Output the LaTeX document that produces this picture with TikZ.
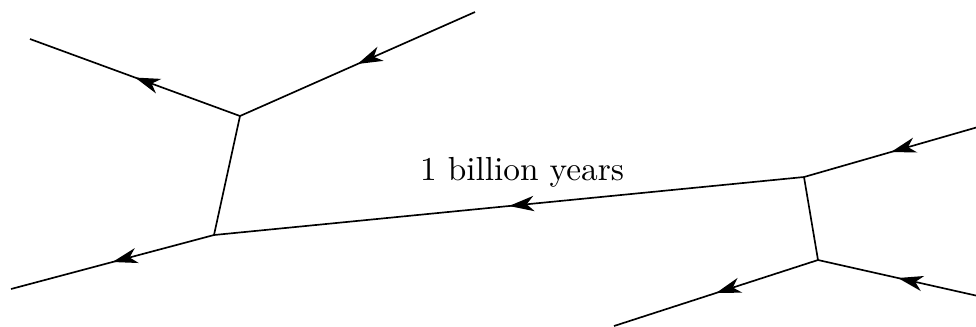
\documentclass[tikz,border=0pt]{standalone}
\usetikzlibrary{arrows.meta,decorations.markings}
\tikzset{
  prop/.style={line width=0.5pt, black, postaction={decorate},
    decoration={markings, mark=at position 0.5 with {\arrow{Stealth[length=7.5pt,width=4.6pt,inset=2.2pt]}}}},
  plain/.style={line width=0.5pt, black}
}
\begin{document}
\begin{tikzpicture}[x=0.3pt,y=-0.3pt]
\useasboundingbox (0,0) rectangle (976,326);
\coordinate (v1) at (240,116);
\coordinate (v2) at (214,235);
\coordinate (v3) at (804,177);
\coordinate (v4) at (818,260);
\coordinate (a) at (30,39);
\coordinate (b) at (475,12);
\coordinate (c) at (11,289);
\coordinate (d) at (978,127);
\coordinate (e) at (978,296);
\coordinate (f) at (614,326);
\draw[prop] (v1) -- (a);
\draw[prop] (b) -- (v1);
\draw[plain] (v1) -- (v2);
\draw[prop] (v2) -- (c);
\draw[prop] (v3) -- (v2);
\draw[prop] (d) -- (v3);
\draw[plain] (v3) -- (v4);
\draw[prop] (e) -- (v4);
\draw[prop] (v4) -- (f);
\node[font=\fontsize{10}{12}\selectfont] (lbl) at (522,172) {1 billion years};
\end{tikzpicture}
\end{document}
